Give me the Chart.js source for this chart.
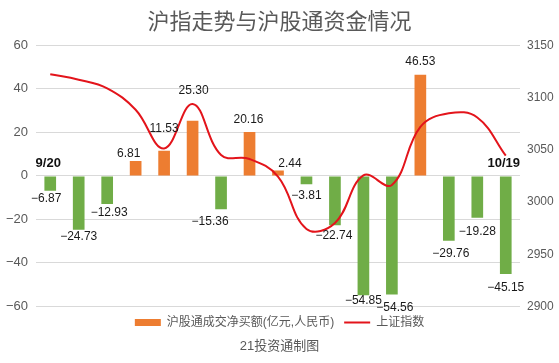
<!DOCTYPE html>
<html>
<head>
<meta charset="utf-8">
<script src="https://cdn.jsdelivr.net/npm/chart.js@4.4.1/dist/chart.umd.min.js"></script>
<style>
  html, body { margin: 0; padding: 0; background: #fff; }
  #wrap { position: relative; width: 559px; height: 363px; }
</style>
</head>
<body>
<div id="wrap"><canvas id="chart" role="img" aria-label="沪指走势与沪股通资金情况"></canvas></div>
<script>
// trading days, 2022-09-20 .. 2022-10-19
const DAYS = ['9/20', '9/21', '9/22', '9/23', '9/26', '9/27', '9/28', '9/29', '9/30',
  '10/10', '10/11', '10/12', '10/13', '10/14', '10/17', '10/18', '10/19'];

// 沪股通成交净买额 (亿元)
const NET_BUY = [-6.87, -24.73, -12.93, 6.81, 11.53, 25.30, -15.36, 20.16, 2.44,
  -3.81, -22.74, -54.85, -54.56, 46.53, -29.76, -19.28, -45.15];

// 上证指数 close
const SSE_INDEX = [3122.41, 3117.18, 3108.91, 3088.37, 3051.23, 3093.86, 3045.07, 3041.20, 3024.39,
  2974.15, 2979.79, 3025.51, 3016.36, 3071.99, 3084.94, 3080.96, 3044.38];

const LEFT_TICKS = [-60, -40, -20, 0, 20, 40, 60];
const RIGHT_TICKS = [2900, 2950, 3000, 3050, 3100, 3150];
const DATE_MARKS = ['9/20', '10/19'];

const ORANGE = '#ed7d31';
const GREEN = '#70ad47';
const RED = '#e3141b';
const GREY = '#595959';
const FONT = '"Liberation Sans", "Noto Sans CJK SC", sans-serif';

Chart.defaults.font.family = FONT;
Chart.defaults.color = GREY;

const minus = (s) => String(s).replace('-', '\u2212');

/* Label gap from bar end and small sideways nudges, as placed in the original. */
const LABEL_GAP = [8, 7, 9, 7, 22, 30, 12, 12, 7, 12, 10, 5, 13, 13, 13, 14, 14];
const LABEL_SHIFT = [-4, 0, 2, -7, 0, 1, -11, -1, 12, 0, -1, 0, 3, 0, 2, 0, 0];

const barLabels = {
  id: 'barLabels',
  afterDatasetsDraw(chart) {
    const { ctx } = chart;
    const bars = chart.getDatasetMeta(0).data;
    const zero = chart.scales.y.getPixelForValue(0);
    ctx.save();
    ctx.textAlign = 'center';
    ctx.textBaseline = 'middle';
    ctx.fillStyle = '#1a1a1a';
    ctx.font = '12px ' + FONT;
    bars.forEach((bar, i) => {
      const v = NET_BUY[i];
      const y = v >= 0 ? bar.y - LABEL_GAP[i] : bar.y + LABEL_GAP[i];
      ctx.fillText(minus(v.toFixed(2)), bar.x + LABEL_SHIFT[i], y);
    });
    ctx.font = 'bold 13px ' + FONT;
    ctx.fillStyle = '#111';
    DATE_MARKS.forEach((d) => {
      const i = DAYS.indexOf(d);
      ctx.fillText(d, bars[i].x - 2, zero - 12);
    });
    ctx.restore();
  },
};

new Chart(document.getElementById('chart'), {
  data: {
    labels: DAYS,
    datasets: [
      {
        type: 'bar',
        label: '沪股通成交净买额(亿元,人民币)',
        data: NET_BUY,
        backgroundColor: NET_BUY.map((v) => (v >= 0 ? ORANGE : GREEN)),
        categoryPercentage: 1,
        barPercentage: 0.41,
        yAxisID: 'y',
        order: 1,
      },
      {
        type: 'line',
        label: '上证指数',
        data: SSE_INDEX,
        borderColor: RED,
        borderWidth: 2,
        pointRadius: 0,
        tension: 0.4,
        fill: false,
        yAxisID: 'y1',
        order: 0,
      },
    ],
  },
  options: {
    responsive: true,
    maintainAspectRatio: false,
    animation: false,
    layout: { padding: 0 },
    scales: {
      x: { display: false },
      y: {
        position: 'left',
        min: LEFT_TICKS[0],
        max: LEFT_TICKS[LEFT_TICKS.length - 1],
        border: { display: false },
        grid: { color: '#d9d9d9', drawTicks: false },
        ticks: {
          stepSize: LEFT_TICKS[1] - LEFT_TICKS[0],
          padding: 8,
          color: GREY,
          font: { size: 13 },
          callback: (v) => minus(v),
        },
        afterFit: (s) => { s.width = 36; },
      },
      y1: {
        position: 'right',
        min: RIGHT_TICKS[0],
        max: RIGHT_TICKS[RIGHT_TICKS.length - 1],
        border: { display: false },
        grid: { display: false, drawTicks: false },
        ticks: {
          stepSize: RIGHT_TICKS[1] - RIGHT_TICKS[0],
          padding: 7,
          color: GREY,
          font: { size: 12 },
          callback: (v) => String(v),
        },
        afterFit: (s) => { s.width = 39; },
      },
    },
    plugins: {
      title: {
        display: true,
        text: '沪指走势与沪股通资金情况',
        color: GREY,
        font: { size: 22, weight: 'normal' },
        padding: { top: 10, bottom: 9 },
      },
      subtitle: {
        display: true,
        position: 'bottom',
        text: '21投资通制图',
        color: GREY,
        font: { size: 13 },
        padding: { top: 0, bottom: 9 },
      },
      legend: {
        position: 'bottom',
        labels: {
          color: GREY,
          font: { size: 12 },
          padding: 10,
          usePointStyle: true,
          pointStyleWidth: 26,
          boxHeight: 7,
          generateLabels: (chart) => [
            {
              text: chart.data.datasets[0].label,
              datasetIndex: 0,
              pointStyle: 'rect',
              fillStyle: ORANGE,
              strokeStyle: ORANGE,
              lineWidth: 0,
              fontColor: GREY,
            },
            {
              text: chart.data.datasets[1].label,
              datasetIndex: 1,
              pointStyle: 'line',
              fillStyle: RED,
              strokeStyle: RED,
              lineWidth: 2,
              fontColor: GREY,
            },
          ],
        },
      },
      tooltip: { enabled: false },
    },
  },
  plugins: [barLabels],
});
</script>
</body>
</html>
